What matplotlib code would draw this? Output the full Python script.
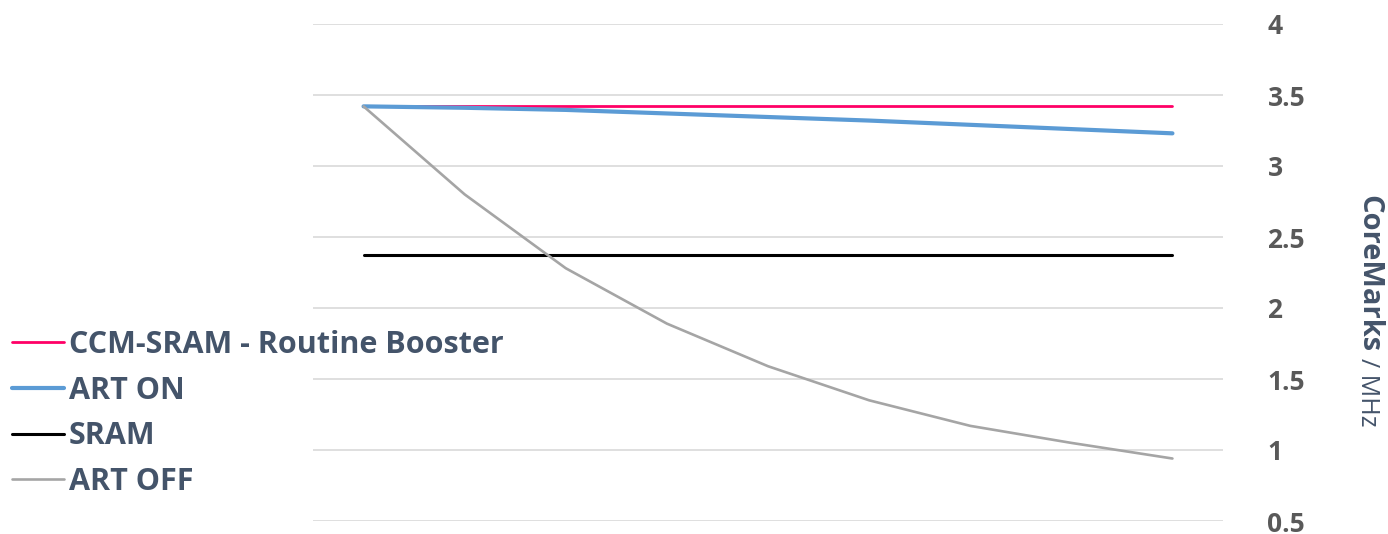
import matplotlib
matplotlib.use('Agg')
import matplotlib.pyplot as plt

# Values (9 points, no x labels shown)
points = list(range(9))
ccm_sram = [3.42, 3.42, 3.42, 3.42, 3.42, 3.42, 3.42, 3.42, 3.42]
art_on = [3.42, 3.41, 3.395, 3.37, 3.345, 3.32, 3.29, 3.26, 3.23]
sram = [2.37, 2.37, 2.37, 2.37, 2.37, 2.37, 2.37, 2.37, 2.37]
art_off = [3.42, 2.80, 2.28, 1.89, 1.59, 1.35, 1.17, 1.05, 0.94]
y_ticks = [0.5, 1, 1.5, 2, 2.5, 3, 3.5, 4]
y_tick_labels = ['0.5', '1', '1.5', '2', '2.5', '3', '3.5', '4']

plt.rcParams['font.family'] = ['Open Sans', 'DejaVu Sans']

W, H = 1388, 534
fig = plt.figure(figsize=(W / 100, H / 100), dpi=100)
ax = fig.add_axes([313 / W, 1 - 521 / H, (1223 - 313) / W, (521 - 24) / H])

ax.plot(points, ccm_sram, color='#ff0066', lw=2.0, label='CCM-SRAM - Routine Booster', solid_capstyle='round')
ax.plot(points, art_on, color='#5b9bd5', lw=3.0, label='ART ON', solid_capstyle='round')
ax.plot(points, sram, color='#000000', lw=2.2, label='SRAM', solid_capstyle='round')
ax.plot(points, art_off, color='#a5a5a5', lw=1.9, label='ART OFF', solid_capstyle='round')

ax.set_xlim(-0.5, 8.5)
ax.set_ylim(0.5, 4)
ax.set_xticks([])
ax.yaxis.tick_right()
ax.set_yticks(y_ticks)
ax.set_yticklabels(y_tick_labels, fontsize=19, fontweight='bold', color='#595959')
ax.tick_params(axis='y', length=0, pad=32)
for lab in ax.get_yticklabels():
    lab.set_horizontalalignment('left')
    lab.set_verticalalignment('center_baseline')
ax.grid(axis='y', color='#d9d9d9', lw=1.2)
ax.set_axisbelow(True)
for s in ax.spines.values():
    s.set_visible(False)

# rotated axis title on the right
fig.text(1361 / W, 1 - 195 / H, 'CoreMarks', rotation=-90, rotation_mode='anchor',
         ha='left', va='baseline', fontsize=21, fontweight='bold', color='#44546a')
fig.text(1361 / W, 1 - 358 / H, '/ MHz', rotation=-90, rotation_mode='anchor',
         ha='left', va='baseline', fontsize=18, color='#44546a')

leg = fig.legend(loc='upper left', bbox_to_anchor=(3 / W, 1 - 321 / H), frameon=False,
                 fontsize=22, handlelength=1.7, handletextpad=0.16, labelspacing=0.51,
                 borderaxespad=0, borderpad=0.3)
for t in leg.get_texts():
    t.set_color('#44546a')
    t.set_fontweight('bold')

fig.savefig('out.png', dpi=100)
